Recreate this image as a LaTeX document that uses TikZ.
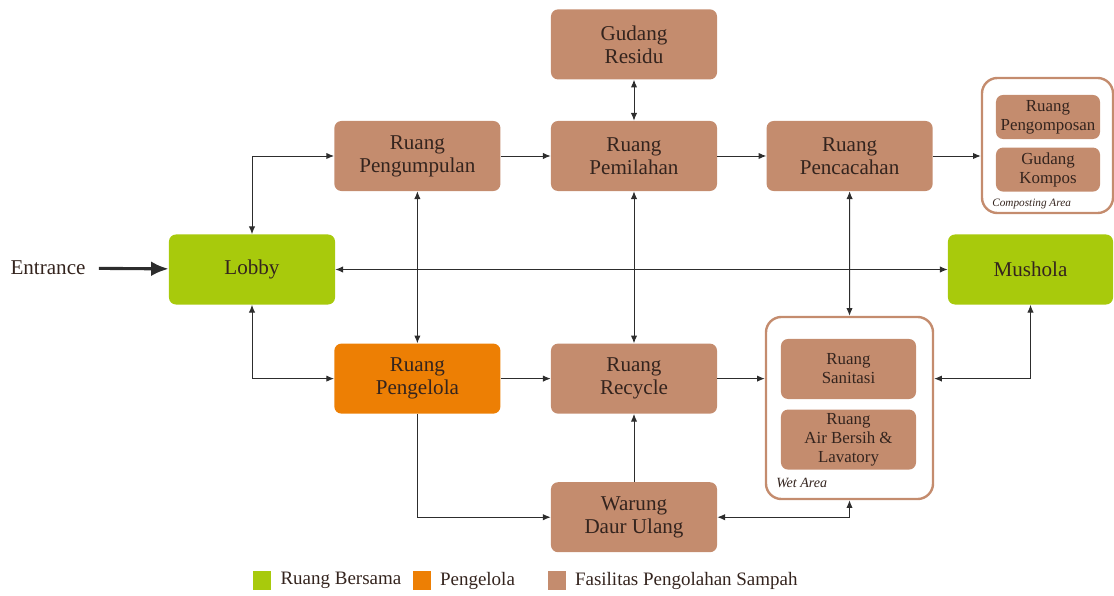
\documentclass[tikz,border=0pt]{standalone}
\usepackage{fontspec}
\setmainfont{Liberation Serif}
\usetikzlibrary{arrows.meta}
\usetikzlibrary{positioning}

\definecolor{hijau}{RGB}{168,202,12}
\definecolor{oranye}{RGB}{237,127,4}
\definecolor{coklat}{RGB}{196,140,110}
\definecolor{tinta}{RGB}{52,36,30}
\definecolor{garis}{RGB}{45,45,45}

\tikzset{
  ruang/.style={rectangle, rounded corners=5pt, fill=coklat, text=tinta, align=center,
    minimum width=4.15cm, minimum height=1.75cm, font=\fontsize{15}{16.5}\selectfont},
  bersama/.style={ruang, fill=hijau},
  kelola/.style={ruang, fill=oranye},
  kecil/.style={ruang, inner sep=1pt, font=\fontsize{12}{13.5}\selectfont},
  area/.style={rectangle, draw=coklat, line width=1.7pt, rounded corners=11pt},
  legenda/.style={rectangle, minimum size=0.45cm, inner sep=0pt},
  teks/.style={inner sep=0pt, text=tinta, font=\fontsize{13.5}{15}\selectfont},
  alur/.style={draw=garis, line width=0.7pt},
}

\begin{document}
\begin{tikzpicture}[x=0.025cm, y=-0.025cm, >={Latex[length=5.5pt,width=4.5pt]}]
\useasboundingbox (0,0) rectangle (1114,596);

\node [ruang] (pilah) at (634,156) {Ruang\\Pemilahan};
\node [ruang] (residu) [above=1.025cm of pilah] {Gudang\\Residu};
\node [ruang] (kumpul) [left=1.25cm of pilah] {Ruang\\Pengumpulan};
\node [ruang] (cacah) [right=1.225cm of pilah] {Ruang\\Pencacahan};
\node [ruang] (recycle) [below=3.8cm of pilah] {Ruang\\Recycle};
\node [kelola] (pengelola) [left=1.25cm of recycle] {Ruang\\Pengelola};
\node [ruang] (warung) [below=1.7cm of recycle] {Warung\\Daur Ulang};

\node [bersama] (lobby) at (252,269.5) {Lobby};
\node [bersama, minimum width=4.125cm] (mushola) at (1030.5,269.5) {Mushola};

%composting area
\node [area, minimum width=3.275cm, minimum height=3.375cm] (kompos) at (1047.5,145.5) {};
\node [kecil, minimum width=2.6cm, minimum height=1.1cm] (pengomposan) at (1048,117) {Ruang\\Pengomposan};
\node [kecil, minimum width=2.6cm, minimum height=1.1cm] (gudangkompos) [below=0.2cm of pengomposan] {Gudang\\Kompos};
\node (labelkompos) [anchor=base west, inner sep=0pt, text=tinta, font=\fontsize{8}{9}\selectfont\itshape] at (992,207) {Composting Area};

%wet area
\node [area, minimum width=4.175cm, minimum height=4.55cm] (wet) at (849.5,408) {};
\node [kecil, minimum width=3.375cm, minimum height=1.5cm] (sanitasi) at (848.5,369) {Ruang\\Sanitasi};
\node [kecil, minimum width=3.375cm, minimum height=1.5cm] (airbersih) [below=0.25cm of sanitasi] {Ruang\\Air Bersih \&\\Lavatory};
\node (labelwet) [anchor=base west, inner sep=0pt, text=tinta, font=\fontsize{10}{11}\selectfont\itshape] at (776,488) {Wet Area};

%input
\node (entrance) [text=tinta, font=\fontsize{15}{16.5}\selectfont] at (48,268) {Entrance};
\draw [alur, -{Latex[length=12.5pt,width=10.5pt]}, line width=2.2pt, shorten <=6pt] (entrance) to (lobby);

\draw [alur, <->] (lobby.north) |- (kumpul.west);
\draw [alur, <->] (lobby.south) |- (pengelola.west);
\draw [alur, <->] (lobby) to (mushola);
\draw [alur, ->] (kumpul) to (pilah);
\draw [alur, ->] (pilah) to (cacah);
\draw [alur, <->] (residu) to (pilah);
\draw [alur, ->] (cacah.east) to (cacah.east -| kompos.west);
\draw [alur, <->] (kumpul) to (pengelola);
\draw [alur, <->] (pilah) to (recycle);
\draw [alur, <->] (cacah.south) to (wet.north);
\draw [alur, ->] (pengelola) to (recycle);
\draw [alur, ->] (recycle.east) to (recycle.east -| wet.west);
\draw [alur, <->] (mushola.south) |- (recycle.east -| wet.east);
\draw [alur, ->] (pengelola.south) |- (warung.west);
\draw [alur, ->] (warung) to (recycle);
\draw [alur, <->] (warung.east) -| (wet.south);

%legend
\node [legenda, fill=hijau] (kotakhijau) at (262,580.5) {};
\node (teksbersama) [teks, right=0.225cm of kotakhijau] {Ruang Bersama};
\node [legenda, fill=oranye] (kotakoranye) at (421.5,580.5) {};
\node (tekskelola) [teks, right=0.225cm of kotakoranye] {Pengelola};
\node [legenda, fill=coklat] (kotakcoklat) at (556.5,580.5) {};
\node (teksfasilitas) [teks, right=0.225cm of kotakcoklat] {Fasilitas Pengolahan Sampah};

\end{tikzpicture}
\end{document}
